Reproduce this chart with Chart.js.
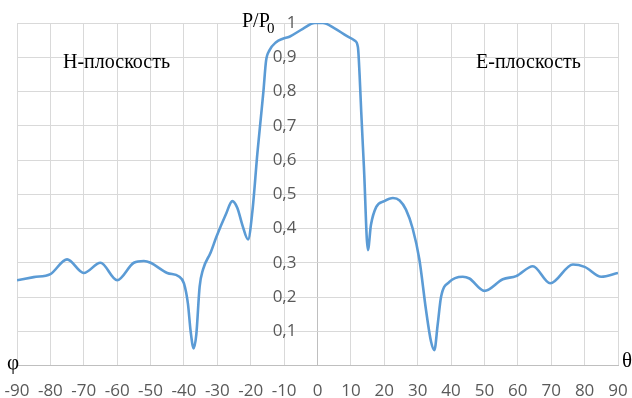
<!DOCTYPE html>
<html>
<head>
<meta charset="utf-8">
<script src="https://cdn.jsdelivr.net/npm/chart.js@4/dist/chart.umd.min.js"></script>
<style>
  html, body { margin: 0; padding: 0; background: #ffffff; }
  #wrap { width: 632px; height: 398px; position: relative; }
</style>
</head>
<body>
<div id="wrap"><canvas id="c" width="632" height="398"></canvas></div>
<script>
// angle, degrees
const thetaValues = [
  -90, -85, -80, -75, -70, -65, -60, -55, -52, -50, -45, -41.5, -40, -38.8, -38, -37.1, -36.3, -35.3, -34.3,
  -32, -30.3, -27.5, -25.5, -24, -22.5, -20.8, -19.5, -18, -17, -16.2, -15.4, -14.4, -12.4, -10.4, -8.4,
  -4.4, -0.8, 1.6, 5, 8.6, 11.1, 12.1, 12.6, 13.1, 13.9, 15.1, 16, 17.6, 20, 22.6, 24.6, 26.5, 28.5,
  30.5, 32.5, 34, 35, 36, 37, 39.5, 43.5, 45.5, 50, 55.5, 59.5, 64.5, 69.7, 76.5, 80, 85, 90
];
// relative power P/P0
const powerValues = [
  0.249, 0.258, 0.267, 0.31, 0.27, 0.30, 0.249, 0.30, 0.305, 0.30, 0.27, 0.26, 0.24, 0.18, 0.10, 0.05, 0.09, 0.23, 0.28,
  0.33, 0.375, 0.44, 0.48, 0.46, 0.41, 0.368, 0.45, 0.62, 0.72, 0.80, 0.89, 0.92, 0.944, 0.954, 0.96,
  0.983, 1.0, 1.0, 0.985, 0.963, 0.949, 0.93, 0.85, 0.74, 0.58, 0.337, 0.41, 0.463, 0.48, 0.489, 0.482, 0.455, 0.40,
  0.31, 0.162, 0.07, 0.045, 0.12, 0.2, 0.244, 0.259, 0.254, 0.218, 0.252, 0.261, 0.29, 0.24, 0.295, 0.288, 0.259, 0.27
];
const xTickValues = [-90, -80, -70, -60, -50, -40, -30, -20, -10, 0, 10, 20, 30, 40, 50, 60, 70, 80, 90];
const yTickValues = [0, 0.1, 0.2, 0.3, 0.4, 0.5, 0.6, 0.7, 0.8, 0.9, 1];

const points = thetaValues.map((t, i) => ({ x: t, y: powerValues[i] }));

const annotate = {
  id: 'annotate',
  afterDraw(chart) {
    const ctx = chart.ctx;
    ctx.save();
    ctx.fillStyle = '#000000';
    ctx.font = '20px "Liberation Serif", "Times New Roman", serif';
    ctx.textAlign = 'left';
    ctx.textBaseline = 'alphabetic';
    ctx.fillText('H-плоскость', 63, 68);
    ctx.fillText('E-плоскость', 476, 68);
    ctx.fillText('P/P', 242, 27);
    ctx.font = '15px "Liberation Serif", "Times New Roman", serif';
    ctx.fillText('0', 267, 33);
    ctx.font = '21px "Liberation Serif", "Times New Roman", serif';
    ctx.textAlign = 'center';
    ctx.textBaseline = 'middle';
    ctx.fillText('φ', 13, 363);
    ctx.fillText('θ', 627, 361);
    ctx.restore();
  }
};

new Chart(document.getElementById('c'), {
  type: 'line',
  data: {
    datasets: [{
      data: points,
      borderColor: '#5B9BD5',
      borderWidth: 2.6,
      pointRadius: 0,
      fill: false,
      cubicInterpolationMode: 'monotone'
    }]
  },
  options: {
    responsive: false,
    animation: false,
    events: [],
    layout: { padding: { left: 17, right: 14, top: 23, bottom: 0 } },
    plugins: { legend: { display: false }, tooltip: { enabled: false } },
    scales: {
      x: {
        type: 'linear',
        position: 'bottom',
        min: -90, max: 90,
        afterFit(scale) {
          scale.height = 32.5;
          scale.paddingLeft = 0;
          scale.paddingRight = 0;
        },
        afterBuildTicks(scale) { scale.ticks = xTickValues.map(v => ({ value: v })); },
        grid: {
          color: c => (c.tick && c.tick.value === 0) ? '#BFBFBF' : '#D9D9D9',
          lineWidth: 1,
          drawTicks: false
        },
        border: { color: '#BFBFBF', width: 1 },
        ticks: {
          color: '#595959',
          font: { family: '"Open Sans", sans-serif', size: 17 },
          padding: 15,
          maxRotation: 0,
          autoSkip: false,
          callback: v => String(v)
        }
      },
      y: {
        type: 'linear',
        // labels end a little left of the central vertical axis (x = 0)
        position: { x: -6.3 },
        min: 0, max: 1,
        afterBuildTicks(scale) { scale.ticks = yTickValues.map(v => ({ value: v })); },
        grid: { color: '#D9D9D9', lineWidth: 1, drawTicks: false },
        border: { display: false },
        ticks: {
          color: '#595959',
          font: { family: '"Open Sans", sans-serif', size: 17 },
          autoSkip: false,
          callback: v => v === 0 ? '' : (Math.round(v * 10) / 10).toString().replace('.', ',')
        }
      }
    }
  },
  plugins: [annotate]
});
</script>
</body>
</html>
